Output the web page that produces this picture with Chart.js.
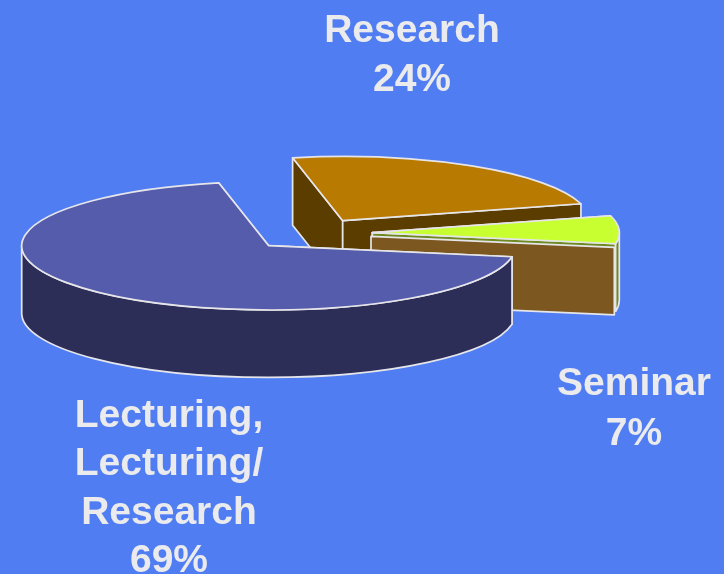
<!DOCTYPE html>
<html>
<head>
<meta charset="utf-8">
<title>Teaching formats</title>
<script src="https://cdn.jsdelivr.net/npm/chart.js@4"></script>
<style>
    html, body { margin: 0; padding: 0; background: #507ef2; overflow: hidden; }
    canvas { display: block; }
</style>
</head>
<body>
<canvas id="pieChart" width="724" height="574"></canvas>
<script>
// Chart data
const categories = ['Research', 'Seminar', 'Lecturing, Lecturing/ Research'];
const shares = [24, 7, 69];
const labelLines = [
    ['Research', '24%'],
    ['Seminar', '7%'],
    ['Lecturing,', 'Lecturing/', 'Research', '69%']
];

// Look of the fake 3D pie
const tilt = 0.26;
const depth = 67.5;
const outline = '#e6e6ea';
const topColors = ['#b87a00', '#c8ff30', '#555cab'];
const sideColors = ['#5c3d00', '#6f8a20', '#2c2e58'];
const sliceCentres = [
    { x: 342.7, y: 220.7 },
    { x: 372.3, y: 232.7 },
    { x: 268.7, y: 245.7 }
];
const labelAnchors = [
    { x: 412, y: 31, step: 49 },
    { x: 634, y: 384, step: 50 },
    { x: 169, y: 416, step: 48.5 }
];

function pointOn(c, r, angle, drop) {
    return { x: c.x + r * Math.cos(angle), y: c.y + r * tilt * Math.sin(angle) + drop };
}

function paint(ctx, fill) {
    ctx.fillStyle = fill;
    ctx.fill();
    ctx.strokeStyle = outline;
    ctx.lineWidth = 1.7;
    ctx.lineJoin = 'round';
    ctx.stroke();
}

// Flat side running from a to b, dropped down by the pie depth
function drawFace(ctx, a, b, fill, height) {
    ctx.beginPath();
    ctx.moveTo(a.x, a.y);
    ctx.lineTo(b.x, b.y);
    ctx.lineTo(b.x, b.y + height);
    ctx.lineTo(a.x, a.y + height);
    ctx.closePath();
    paint(ctx, fill);
}

// Curved outer wall, only the part facing the viewer
function drawRim(ctx, c, r, start, end, fill) {
    const from = Math.max(start, 0);
    const to = Math.min(end, Math.PI);
    if (to <= from) return;
    ctx.beginPath();
    ctx.ellipse(c.x, c.y, r, r * tilt, 0, from, to);
    ctx.ellipse(c.x, c.y + depth, r, r * tilt, 0, to, from, true);
    ctx.closePath();
    paint(ctx, fill);
}

const pie3d = {
    id: 'pie3d',
    beforeDatasetsDraw(chart) {
        const ctx = chart.ctx;
        const arcs = chart.getDatasetMeta(0).data;

        arcs.forEach((arc, i) => {
            const c = sliceCentres[i];
            const r = arc.outerRadius;
            let start = arc.startAngle;
            let end = arc.endAngle;
            // the rim test wants angles around the front of the pie
            if (end > 2 * Math.PI) { start -= 2 * Math.PI; end -= 2 * Math.PI; }
            const first = pointOn(c, r, start, 0);
            const last = pointOn(c, r, end, 0);

            drawFace(ctx, c, first, sideColors[i], depth);
            drawFace(ctx, c, last, sideColors[i], depth);
            drawRim(ctx, c, r, start, end, sideColors[i]);

            // Seminar shows a separate brown slab under its cut edge
            if (i === 1) {
                drawFace(ctx,
                    { x: c.x - 1.3, y: c.y + 3.6 },
                    { x: last.x - 1.3, y: last.y + 3.6 },
                    '#7d5720', depth);
            }

            // the top surface comes from the library's own arc, squashed
            ctx.save();
            ctx.translate(c.x, c.y);
            ctx.scale(1, tilt);
            ctx.translate(-arc.x, -arc.y);
            arc.draw(ctx);
            ctx.restore();

            ctx.beginPath();
            ctx.moveTo(c.x, c.y);
            ctx.ellipse(c.x, c.y, r, r * tilt, 0, start, end);
            ctx.closePath();
            ctx.strokeStyle = outline;
            ctx.lineWidth = 1.7;
            ctx.stroke();
        });
        return false;
    },
    afterDraw(chart) {
        const ctx = chart.ctx;
        ctx.save();
        ctx.font = 'bold 39px "Liberation Sans", Arial, sans-serif';
        ctx.fillStyle = '#ebebee';
        ctx.textAlign = 'center';
        ctx.textBaseline = 'middle';
        labelLines.forEach((lines, i) => {
            const a = labelAnchors[i];
            lines.forEach((line, n) => ctx.fillText(line, a.x, a.y + n * a.step));
        });
        ctx.restore();
    }
};

new Chart(document.getElementById('pieChart'), {
    type: 'pie',
    data: {
        labels: categories,
        datasets: [{
            data: shares,
            backgroundColor: topColors,
            borderWidth: 0
        }]
    },
    options: {
        responsive: false,
        animation: false,
        rotation: -11.7,
        radius: 247,
        plugins: {
            legend: { display: false },
            tooltip: { enabled: false }
        }
    },
    plugins: [pie3d]
});
</script>
</body>
</html>
